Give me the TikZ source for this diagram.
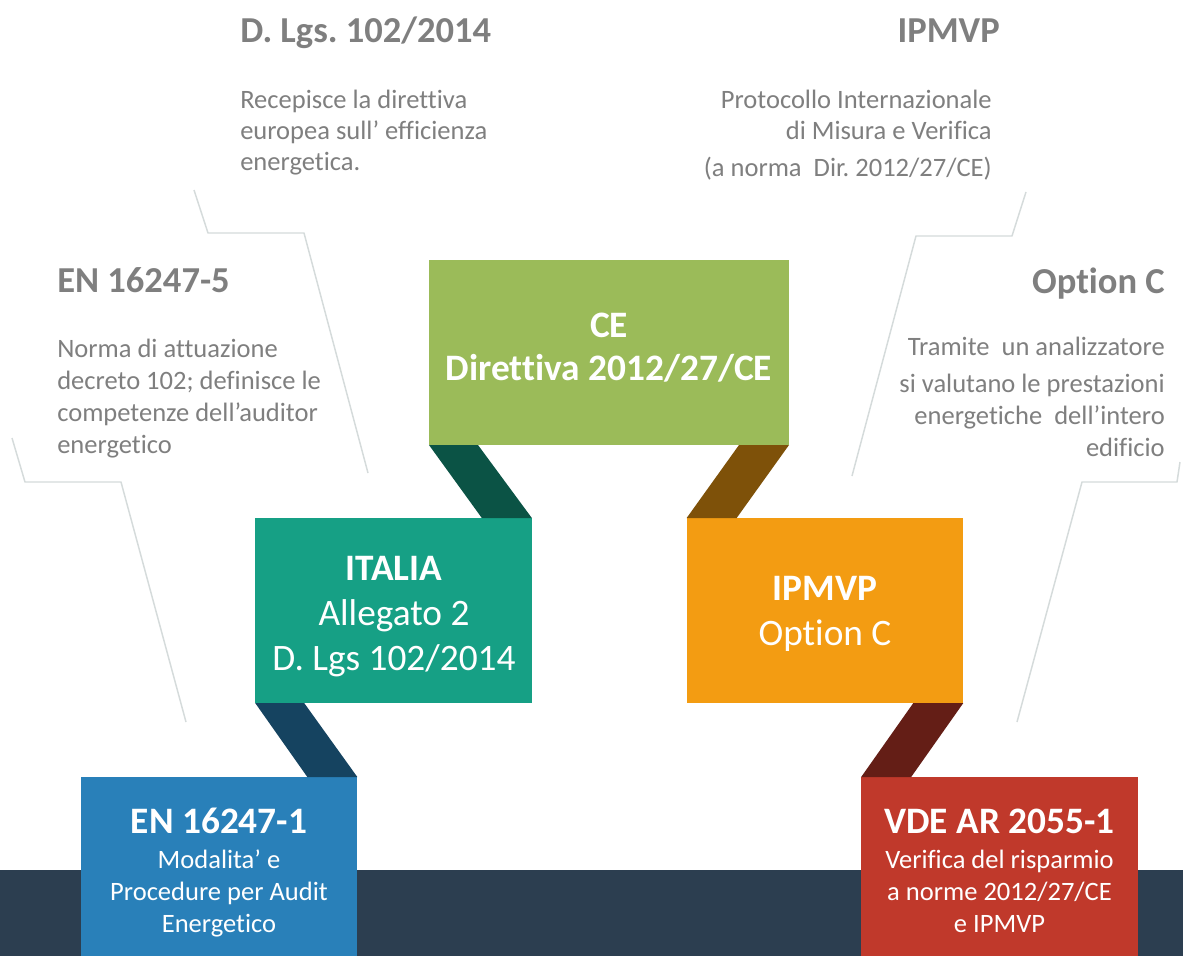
\documentclass[tikz,border=0pt]{standalone}
\usepackage{fontspec}
\setmainfont{Carlito}[Ligatures=NoCommon]
\frenchspacing
\definecolor{cegreen}{HTML}{9BBB59}
\definecolor{itteal}{HTML}{16A085}
\definecolor{iporange}{HTML}{F39C12}
\definecolor{enblue}{HTML}{2980B9}
\definecolor{vdered}{HTML}{C0392B}
\definecolor{bandblue}{HTML}{2C3E50}
\definecolor{linkgreen}{HTML}{0B5345}
\definecolor{linknavy}{HTML}{154360}
\definecolor{linkbrown}{HTML}{7E5109}
\definecolor{linkred}{HTML}{641E16}
\definecolor{textgrey}{HTML}{7F7F7F}
\definecolor{leadgrey}{HTML}{D5DBDB}
\newcommand{\headfont}{\fontsize{27.4pt}{33.75pt}\selectfont}
\newcommand{\bigfont}{\fontsize{28pt}{33.75pt}\selectfont}
\newcommand{\notefont}{\fontsize{19.9pt}{24pt}\selectfont}
\tikzset{
      box/.style={fill=#1, minimum width=207.5pt, minimum height=138.75pt, inner sep=0pt, outer sep=0pt},
      link/.style={fill=#1},
      leader/.style={draw=leadgrey, line width=1.1pt, line join=round},
      head/.style={text=textgrey, font=\headfont\bfseries, inner sep=0pt},
      note/.style={text=textgrey, font=\notefont, inner sep=0pt},
      boxtext/.style={text=white, font=\bigfont, inner sep=0pt, align=center},
      boxnote/.style={text=white, font=\notefont, inner sep=0pt, align=center},
}

\begin{document}
\begin{tikzpicture}[x=0.75pt, y=-0.75pt]

        \clip (0,0) rectangle (1183,956);
        \fill[white] (0,0) rectangle (1183,956);
        \fill[bandblue] (0,870) rectangle (1183,956);

        % leader lines
        \draw[leader] (194,190) -- (208,233) -- (304,233) -- (368,473);
        \draw[leader] (12,438) -- (25,482) -- (121,482) -- (186,722);
        \draw[leader] (1026,192) -- (1012,236) -- (916,236) -- (852,476);
        \draw[leader] (1180,462) -- (1177,482) -- (1082,482) -- (1017,722);

        % boxes
        \node[box=cegreen, minimum width=270pt] (ce) at (609,352.5) {};
        \node[box=itteal] (it) at (393.5,610.5) {};
        \node[box=iporange] (ip) at (825,610.5) {};
        \node[box=enblue] (en) at (219,869.5) {};
        \node[box=vdered] (vde) at (999.5,869.5) {};

        % links between boxes
        \fill[link=linkgreen] (ce.south west) -- ++(49,0) -- (it.north east) -- ++(-50,0) -- cycle;
        \fill[link=linknavy] (it.south west) -- ++(49,0) -- (en.north east) -- ++(-50,0) -- cycle;
        \fill[link=linkbrown] (ce.south east) -- ++(-50,0) -- (ip.north west) -- ++(50,0) -- cycle;
        \fill[link=linkred] (ip.south east) -- ++(-50,0) -- (vde.north west) -- ++(50,0) -- cycle;

        % texts in boxes (base = last line)
        \node[boxtext, anchor=base] (ce-txt) at (609,380) {\bfseries CE\\[-1.5pt]\bfseries Direttiva 2012/27/CE};
        \node[boxtext, anchor=base] (it-txt) at (394,670) {\bfseries ITALIA\\Allegato 2\\D. Lgs 102/2014};
        \node[boxtext, anchor=base] (ip-txt) at (825,645) {\bfseries IPMVP\\Option C};
        \node[boxtext, anchor=base] (en-head) at (219,833) {\bfseries EN 16247-1};
        \node[boxnote, anchor=base] (en-txt) at (219,932) {Modalita’ e\\Procedure per Audit\\Energetico};
        \node[boxtext, anchor=base] (vde-head) at (999.5,833) {\bfseries VDE AR 2055-1};
        \node[boxnote, anchor=base] (vde-txt) at (999.5,932) {Verifica del risparmio\\a norme 2012/27/CE\\e IPMVP};

        % side notes
        \node[head, anchor=base west] (dlgs-head) at (240,43) {D. Lgs. 102/2014};
        \node[note, anchor=base west, align=left] (dlgs-txt) at (240,171) {Recepisce la direttiva\\[-0.75pt]europea sull’ efficienza\\[-0.75pt]energetica.};
        \node[head, anchor=base west] (en5-head) at (57,292) {EN 16247-5};
        \node[note, anchor=base west, align=left] (en5-txt) at (57,453) {Norma di attuazione\\decreto 102; definisce le\\competenze dell’auditor\\energetico};
        \node[head, anchor=base east] (ipm-head) at (1000,43) {IPMVP};
        \node[note, anchor=base east, align=right] (ipm-txt) at (992,176) {Protocollo Internazionale\\[-0.75pt]di Misura e Verifica\\[3.75pt](a norma\ \ Dir. 2012/27/CE)};
        \node[head, anchor=base east] (optc-head) at (1165,293) {Option C};
        \node[note, anchor=base east, align=right] (optc-txt) at (1165,456) {Tramite\ \ un analizzatore\\[3.75pt]si valutano le prestazioni\\energetiche\ \ dell’intero\\edificio};

    \end{tikzpicture}
\end{document}
